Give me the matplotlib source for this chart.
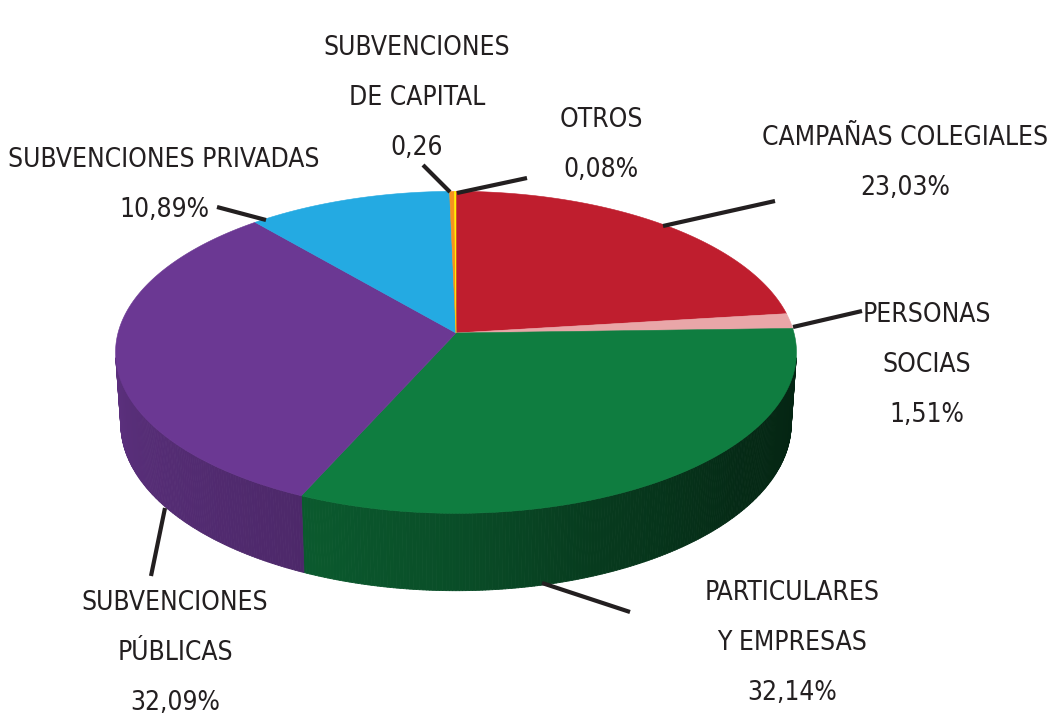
import numpy as np
import matplotlib
matplotlib.use("Agg")
import matplotlib.pyplot as plt
from matplotlib import font_manager
from matplotlib.collections import PolyCollection

# datos, en sentido horario desde las 12
categorias = ["CAMPAÑAS COLEGIALES", "PERSONAS\nSOCIAS", "PARTICULARES\nY EMPRESAS",
              "SUBVENCIONES\nPÚBLICAS", "SUBVENCIONES PRIVADAS", "SUBVENCIONES\nDE CAPITAL", "OTROS"]
porcentajes = [23.03, 1.51, 32.14, 32.09, 10.89, 0.26, 0.08]
sufijos = ["%", "%", "%", "%", "%", "", "%"]
colores = ["#bf1e2e", "#e9a6a8", "#0f7d40", "#6b3893", "#24aae2", "#f6921e", "#fff200"]

# posicion de las etiquetas (centro x, primera linea base y) y lineas guia, en pixeles
pos_etiquetas = [(905, 145), (927, 322), (792, 600), (175, 610), (164, 167), (417, 55), (601, 127)]
guias = [((663, 226), (775, 201)), ((793, 327), (862, 311)), ((542, 583), (630, 612)),
         ((165, 508), (151, 576)), ((217, 207), (266, 220)), ((423, 165), (450, 192)),
         ((457, 193), (527, 178))]
PASO = 50

# geometria de la tarta en perspectiva
CX, CY, RPX = 456, 333, 338
EL = np.radians(28.0)
DIST = 7.36
GROSOR = 0.2415
K = RPX * DIST


def proyectar(theta, z=0.0, r=1.0):
    X = r * np.sin(theta)
    Y = -r * np.cos(theta)
    prof = DIST - Y * np.cos(EL) - z * np.sin(EL)
    x = CX + K * X / prof
    y = CY + K * (Y * np.sin(EL) - z * np.cos(EL)) / prof
    return np.column_stack([np.atleast_1d(x), np.atleast_1d(y)])


def sombra(grados):
    return np.interp(grados, [95, 130, 160, 180, 204, 265], [0.28, 0.34, 0.48, 0.62, 0.72, 0.86])


fig = plt.figure(figsize=(10.53, 7.2), dpi=100)
ax = fig.add_axes([0, 0, 1, 1])
ax.set_xlim(0, 1053)
ax.set_ylim(720, 0)
ax.axis("off")

fracs = np.array(porcentajes) / np.sum(porcentajes)
bordes = np.concatenate([[0], np.cumsum(fracs)]) * 2 * np.pi

# parte visible del lateral
lim = np.arccos(-1 / (DIST * np.cos(EL)))
vis0, vis1 = lim, 2 * np.pi - lim

polis, cols = [], []
for i, col in enumerate(colores):
    a, b = max(bordes[i], vis0), min(bordes[i + 1], vis1)
    if b <= a:
        continue
    n = max(2, int(np.degrees(b - a) / 0.5))
    ts = np.linspace(a, b, n + 1)
    base = np.array(matplotlib.colors.to_rgb(col))
    for t0, t1 in zip(ts[:-1], ts[1:]):
        arr = proyectar(np.array([t0, t1]))
        abj = proyectar(np.array([t1, t0]), z=-GROSOR)
        polis.append(np.vstack([arr, abj]))
        f = sombra(np.degrees((t0 + t1) / 2))
        cols.append(np.clip(base * f, 0, 1))
ax.add_collection(PolyCollection(polis, facecolors=cols, edgecolors=cols, linewidths=0.6, zorder=1))

centro = proyectar(np.array([0.0]), r=0.0)
for i, col in enumerate(colores):
    n = max(2, int(np.degrees(bordes[i + 1] - bordes[i]) / 0.5))
    ts = np.linspace(bordes[i], bordes[i + 1], n + 1)
    pts = np.vstack([centro, proyectar(ts)])
    ax.fill(pts[:, 0], pts[:, 1], color=col, lw=0.4, ec=col, zorder=2)

# fuente estrecha
nombres = {f.name for f in font_manager.fontManager.ttflist}
if "Liberation Sans Narrow" in nombres:
    fuente = dict(family="Liberation Sans Narrow")
else:
    fuente = dict(family="DejaVu Sans", stretch="condensed")
r = fig.canvas.get_renderer()
t = ax.text(0, 0, "SUBVENCIONES", fontsize=20, **fuente)
w = t.get_window_extent(renderer=r).width
t.remove()
tam = 20 * 186 / w

for i, nombre in enumerate(categorias):
    valor = f"{porcentajes[i]:.2f}".replace(".", ",") + sufijos[i]
    lineas = nombre.split("\n") + [valor]
    x0, y0 = pos_etiquetas[i]
    for j, linea in enumerate(lineas):
        ax.text(x0, y0 + j * PASO, linea, ha="center", va="baseline", fontsize=tam,
                color="#231f20", zorder=4, **fuente)
    (xa, ya), (xb, yb) = guias[i]
    ax.plot([xa, xb], [ya, yb], color="#231f20", lw=3, solid_capstyle="butt", zorder=3)

fig.savefig("out.png", dpi=100)
